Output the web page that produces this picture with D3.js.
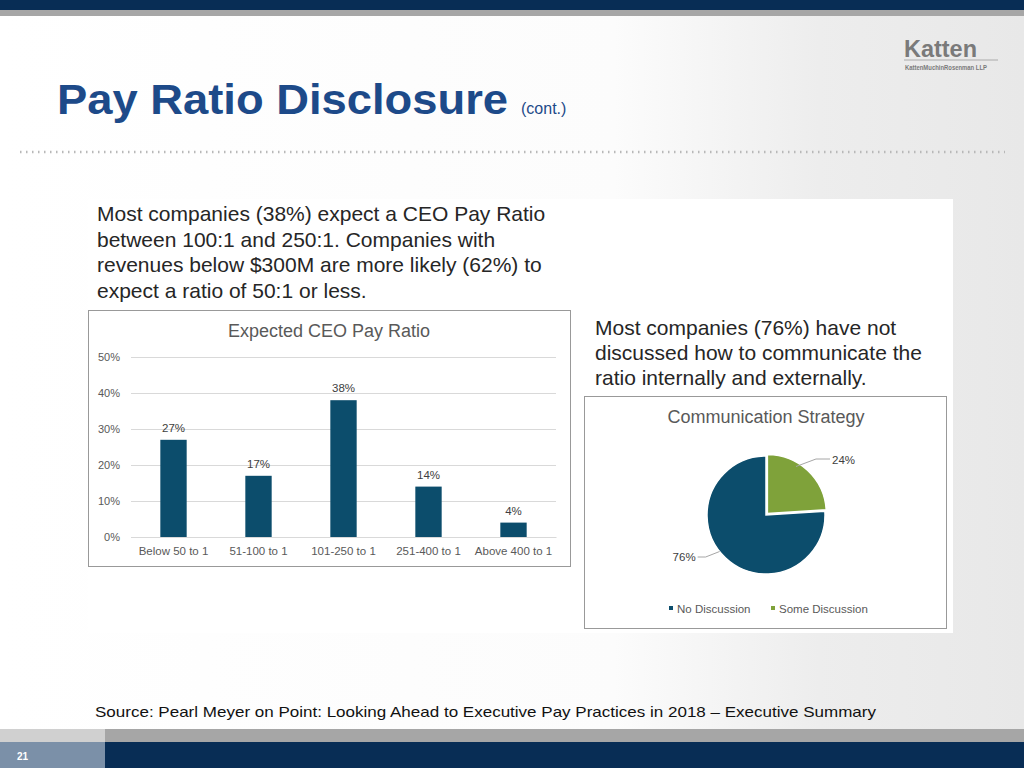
<!DOCTYPE html>
<html lang="en">
<head>
  <meta charset="utf-8">
  <title>Pay Ratio Disclosure</title>
  <script src="https://d3js.org/d3.v7.min.js"></script>
  <style>
    body { margin: 0; background: #fff; }
    svg { display: block; font-family: "Liberation Sans", Arial, sans-serif; }
  </style>
</head>
<body>
<script>
  // data
  const ratioCats = ["Below 50 to 1", "51-100 to 1", "101-250 to 1", "251-400 to 1", "Above 400 to 1"];
  const ratioVals = [27, 17, 38, 14, 4];
  const yTicks = [0, 10, 20, 30, 40, 50];

  const pieCats = ["No Discussion", "Some Discussion"];
  const pieVals = [76, 24];
  const pieColors = ["#0c4d6c", "#7fa23a"];

  const leftText = [
    "Most companies (38%) expect a CEO Pay Ratio",
    "between 100:1 and 250:1. Companies with",
    "revenues below $300M are more likely (62%) to",
    "expect a ratio of 50:1 or less."
  ];
  const rightText = [
    "Most companies (76%) have not",
    "discussed how to communicate the",
    "ratio internally and externally."
  ];

  const W = 1024, H = 768;
  const svg = d3.select("body").append("svg").attr("width", W).attr("height", H);

  // background: white fading to light grey on the right
  const defs = svg.append("defs");
  const bg = defs.append("linearGradient").attr("id", "bg").attr("x1", 0).attr("x2", 1);
  bg.append("stop").attr("offset", "0%").attr("stop-color", "#ffffff");
  bg.append("stop").attr("offset", "60%").attr("stop-color", "#fcfcfc");
  bg.append("stop").attr("offset", "80%").attr("stop-color", "#ededed");
  bg.append("stop").attr("offset", "100%").attr("stop-color", "#e8e8e8");
  svg.append("rect").attr("width", W).attr("height", H).attr("fill", "url(#bg)");

  // header bars
  svg.append("rect").attr("width", W).attr("height", 10).attr("fill", "#082d55");
  svg.append("rect").attr("y", 10).attr("width", W).attr("height", 6).attr("fill", "#a6a6a6");

  // title
  svg.append("text").attr("x", 57).attr("y", 114)
    .attr("fill", "#1d4a89").attr("font-weight", "bold").attr("font-size", 43)
    .attr("textLength", 451).attr("lengthAdjust", "spacingAndGlyphs")
    .text("Pay Ratio Disclosure");
  svg.append("text").attr("x", 521).attr("y", 114).attr("fill", "#1d4a89")
    .attr("font-size", 16).text("(cont.)");

  // logo
  svg.append("text").attr("x", 904).attr("y", 57).attr("fill", "#7a7a7a")
    .attr("font-size", 24).attr("font-weight", "bold").attr("textLength", 73)
    .attr("lengthAdjust", "spacingAndGlyphs").text("Katten");
  svg.append("line").attr("x1", 904).attr("x2", 998).attr("y1", 60).attr("y2", 60)
    .attr("stroke", "#aaa").attr("stroke-width", 1);
  svg.append("text").attr("x", 905).attr("y", 70).attr("fill", "#7a7a7a")
    .attr("font-size", 7).attr("font-weight", "bold").attr("textLength", 82)
    .attr("lengthAdjust", "spacingAndGlyphs").text("KattenMuchinRosenman LLP");

  // dotted rule
  svg.append("line").attr("x1", 20).attr("x2", 1005).attr("y1", 152).attr("y2", 152)
    .attr("stroke", "#b8b8b8").attr("stroke-width", 2.5).attr("stroke-dasharray", "1.5 4.5");

  // white content panel
  svg.append("rect").attr("x", 88).attr("y", 199).attr("width", 865).attr("height", 434).attr("fill", "#fff");

  const txtL = svg.append("g").attr("fill", "#262626").attr("font-size", 21);
  leftText.forEach((t, i) => {
    txtL.append("text").attr("x", 97).attr("y", 221 + i * 25.7).text(t);
  });
  const txtR = svg.append("g").attr("fill", "#262626").attr("font-size", 21);
  rightText.forEach((t, i) => {
    txtR.append("text").attr("x", 595).attr("y", 335 + i * 25).text(t);
  });

  // ---- bar chart ----
  const bc = svg.append("g");
  bc.append("rect").attr("x", 88.5).attr("y", 310.5).attr("width", 482).attr("height", 256)
    .attr("fill", "#fff").attr("stroke", "#999");
  bc.append("text").attr("x", 329).attr("y", 337).attr("text-anchor", "middle")
    .attr("fill", "#595959").attr("font-size", 18).text("Expected CEO Pay Ratio");

  const x = d3.scaleBand().domain(ratioCats).range([131, 556]).paddingInner(0.69).paddingOuter(0.345);
  const y = d3.scaleLinear().domain([0, 50]).range([537, 357]);

  const yAxis = d3.axisLeft(y).tickValues(yTicks).tickSize(-(556 - 131)).tickFormat(d => d + "%");
  const ya = bc.append("g").attr("transform", "translate(131,0)").call(yAxis);
  ya.select(".domain").remove();
  ya.selectAll(".tick line").attr("stroke", "#d9d9d9");
  ya.selectAll(".tick text").attr("x", -11).attr("fill", "#595959").attr("font-size", 11)
    .attr("font-family", "Liberation Sans, Arial, sans-serif");

  const xAxis = d3.axisBottom(x).tickSize(0);
  const xa = bc.append("g").attr("transform", "translate(0,537)").call(xAxis);
  xa.select(".domain").attr("stroke", "#d9d9d9");
  xa.selectAll(".tick text").attr("y", 10).attr("fill", "#595959").attr("font-size", 11.5)
    .attr("font-family", "Liberation Sans, Arial, sans-serif");

  bc.selectAll("rect.bar").data(ratioVals).join("rect").attr("class", "bar")
    .attr("x", (d, i) => x(ratioCats[i])).attr("width", x.bandwidth())
    .attr("y", d => y(d)).attr("height", d => y(0) - y(d)).attr("fill", "#0c4d6c");
  bc.selectAll("text.val").data(ratioVals).join("text").attr("class", "val")
    .attr("x", (d, i) => x(ratioCats[i]) + x.bandwidth() / 2).attr("y", d => y(d) - 8)
    .attr("text-anchor", "middle").attr("fill", "#404040").attr("font-size", 11.5)
    .text(d => d + "%");

  // ---- pie chart ----
  const pc = svg.append("g");
  pc.append("rect").attr("x", 584.5).attr("y", 396.5).attr("width", 362).attr("height", 232)
    .attr("fill", "#fff").attr("stroke", "#999");
  pc.append("text").attr("x", 766).attr("y", 423).attr("text-anchor", "middle")
    .attr("fill", "#595959").attr("font-size", 18).text("Communication Strategy");

  const cx = 766, cy = 515, r = 59;
  // green slice first, clockwise from 12 o'clock
  const order = [1, 0];
  const pie = d3.pie().sort(null).value(i => pieVals[i]);
  const arcs = pie(order);
  const arc = d3.arc().innerRadius(0).outerRadius(r);
  const pg = pc.append("g").attr("transform", `translate(${cx},${cy})`);
  pg.selectAll("path").data(arcs).join("path")
    .attr("transform", d => {
      if (d.data !== 1) return null;
      const a = (d.startAngle + d.endAngle) / 2;
      return `translate(${Math.sin(a) * 2},${-Math.cos(a) * 2})`;
    })
    .attr("d", arc).attr("fill", d => pieColors[d.data])
    .attr("stroke", "#fff").attr("stroke-width", 1.5);

  // leader lines + labels
  const green = arcs.find(d => d.data === 1), blue = arcs.find(d => d.data === 0);
  const ga = (green.startAngle + green.endAngle) / 2 - 0.2;
  const gp = [Math.sin(ga) * (r - 2), -Math.cos(ga) * (r - 2)];
  pg.append("polyline").attr("points", [gp, [gp[0] + 20, -56], [gp[0] + 34, -56]].map(p => p.join(",")).join(" "))
    .attr("fill", "none").attr("stroke", "#a6a6a6");
  pg.append("text").attr("x", gp[0] + 36).attr("y", -51).attr("fill", "#404040").attr("font-size", 11.5)
    .text(pieVals[1] + "%");
  const ba = (blue.startAngle + blue.endAngle) / 2 + 0.15;
  const bp = [Math.sin(ba) * r, -Math.cos(ba) * r];
  pg.append("polyline").attr("points", [bp, [bp[0] - 14, 42], [bp[0] - 22, 42]].map(p => p.join(",")).join(" "))
    .attr("fill", "none").attr("stroke", "#a6a6a6");
  pg.append("text").attr("x", bp[0] - 24).attr("y", 46).attr("text-anchor", "end")
    .attr("fill", "#404040").attr("font-size", 11.5).text(pieVals[0] + "%");

  // legend
  const legX = [669, 771];
  pieCats.forEach((c, i) => {
    pc.append("rect").attr("x", legX[i]).attr("y", 606).attr("width", 4).attr("height", 4).attr("fill", pieColors[i]);
    pc.append("text").attr("x", legX[i] + 8).attr("y", 613).attr("fill", "#595959").attr("font-size", 11.5).text(c);
  });

  // ---- footer ----
  svg.append("text").attr("x", 95).attr("y", 717).attr("fill", "#111").attr("font-size", 15)
    .attr("textLength", 781).attr("lengthAdjust", "spacingAndGlyphs")
    .text("Source: Pearl Meyer on Point: Looking Ahead to Executive Pay Practices in 2018 \u2013 Executive Summary");
  svg.append("rect").attr("x", 0).attr("y", 729).attr("width", 105).attr("height", 13).attr("fill", "#d0d0d0");
  svg.append("rect").attr("x", 105).attr("y", 729).attr("width", W - 105).attr("height", 13).attr("fill", "#a6a6a6");
  svg.append("rect").attr("x", 0).attr("y", 742).attr("width", 105).attr("height", 26).attr("fill", "#7b90a8");
  svg.append("rect").attr("x", 105).attr("y", 742).attr("width", W - 105).attr("height", 26).attr("fill", "#082d55");
  svg.append("text").attr("x", 17).attr("y", 760).attr("fill", "#fff").attr("font-size", 10)
    .attr("font-weight", "bold").text("21");
</script>
</body>
</html>
